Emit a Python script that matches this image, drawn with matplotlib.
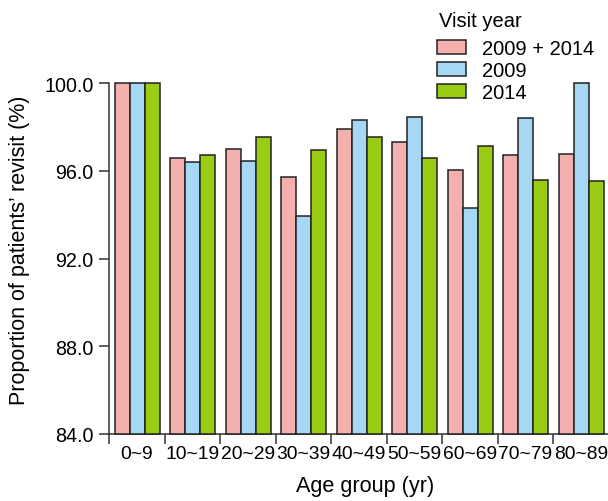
import matplotlib
matplotlib.use("Agg")
import matplotlib.pyplot as plt
import numpy as np

plt.rcParams['font.family'] = ['Liberation Sans', 'DejaVu Sans']

age_groups = ["0~9", "10~19", "20~29", "30~39", "40~49", "50~59", "60~69", "70~79", "80~89"]
series_names = ["2009 + 2014", "2009", "2014"]
both_years = [100.0, 96.6, 97.0, 95.7, 97.9, 97.3, 96.05, 96.7, 96.75]
year_2009 = [100.0, 96.4, 96.45, 93.95, 98.3, 98.45, 94.3, 98.4, 100.0]
year_2014 = [100.0, 96.73, 97.55, 96.95, 97.55, 96.6, 97.15, 95.6, 95.55]
y_ticks = [84.0, 88.0, 92.0, 96.0, 100.0]

colors = ["#F4B0AE", "#A6D8F5", "#99CC12"]
edge = "#222222"

W, H = 608, 502
fig = plt.figure(figsize=(W / 100, H / 100), dpi=100)
ax_left, ax_right, ax_top, ax_bottom = 109.3, 608.8, 84.0, 435.0
ax = fig.add_axes([ax_left / W, 1 - ax_bottom / H, (ax_right - ax_left) / W, (ax_bottom - ax_top) / H])

n = len(age_groups)
centers = np.arange(n) + 0.5
width = 0.27
base = y_ticks[0]
handles = []
for k, (vals, col, name) in enumerate(zip([both_years, year_2009, year_2014], colors, series_names)):
    b = ax.bar(centers + (k - 1) * width, np.array(vals) - base, bottom=base, width=width,
               color=col, edgecolor=edge, linewidth=1.1, label=name, clip_on=False, zorder=3)
    handles.append(b)

ax.set_xlim(0, n)
ax.set_ylim(84, 100)
ax.set_yticks(y_ticks)
ax.set_yticklabels([f"{t:.1f}" for t in y_ticks], fontsize=14.2)
ax.set_xticks(centers)
ax.set_xticklabels(age_groups, fontsize=13.9)
ax.set_xticks(np.arange(n + 1), minor=True)
ax.tick_params(axis="x", which="major", length=0, pad=8.0)
ax.tick_params(axis="x", which="minor", length=7, width=1.1, color="#333333")
ax.tick_params(axis="y", length=7, width=1.1, color="#333333", pad=4.3)

for side in ["top", "right"]:
    ax.spines[side].set_visible(False)
for side in ["left", "bottom"]:
    ax.spines[side].set_linewidth(1.1)
    ax.spines[side].set_color("#333333")

ax.set_ylabel("Proportion of patients’ revisit (%)", fontsize=15.5)
ax.yaxis.set_label_coords((30 - ax_left) / (ax_right - ax_left), (ax_bottom - 250.5) / (ax_bottom - ax_top))
ax.set_xlabel("Age group (yr)", fontsize=15.6)
ax.xaxis.set_label_coords((365 - ax_left) / (ax_right - ax_left), (ax_bottom - 476) / (ax_bottom - ax_top))

# legend title drawn separately so its gap to the entries can be set freely
fig.text(439 / W, 1 - 19.7 / H, "Visit year", fontsize=14.5, ha="left", va="center_baseline")
leg = fig.legend(handles=handles, labels=series_names, loc="upper left",
                 bbox_to_anchor=(437 / W, 1 - 40 / H), frameon=False, fontsize=14.5,
                 handlelength=1.45, handleheight=0.68, handletextpad=0.78, labelspacing=0.15,
                 borderaxespad=0, borderpad=0)

fig.savefig("out.png", dpi=100)
